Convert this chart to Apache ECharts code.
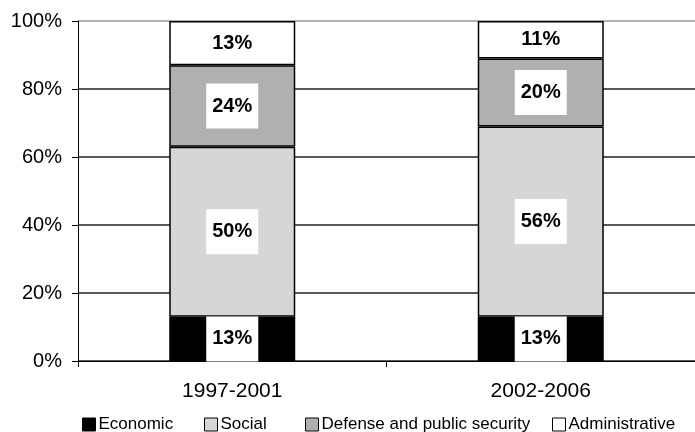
<!DOCTYPE html>
<html>
<head>
<meta charset="utf-8">
<script src="https://cdn.jsdelivr.net/npm/echarts@6/dist/echarts.min.js"></script>
<style>html,body{margin:0;padding:0;background:#fff}#c{width:695px;height:432px}</style>
</head>
<body>
<div id="c"></div>
<script>
const categories = ['1997-2001', '2002-2006'];
const economic = [13, 13];
const social = [50, 56];
const defense = [24, 20];
const administrative = [13, 11];
const seriesNames = ['Economic', 'Social', 'Defense and public security', 'Administrative'];
const yTicks = [0, 20, 40, 60, 80, 100];

const colors = ['#000000', '#d6d6d6', '#b0b0b0', '#ffffff'];
const values = [economic, social, defense, administrative];
const legendLeft = [82, 204, 305, 552];
const font = 'Arial, "Liberation Sans", sans-serif';

const chart = echarts.init(document.getElementById('c'));
chart.setOption({
  animation: false,
  backgroundColor: '#fff',
  grid: { left: 78, right: -11, top: 21, bottom: 71, containLabel: false },
  legend: seriesNames.map((n, i) => ({
    data: [n], left: legendLeft[i], top: 416, padding: 0, icon: 'rect', itemWidth: 13, itemHeight: 13,
    itemGap: 3, selectedMode: false,
    itemStyle: { borderColor: '#000', borderWidth: 1 },
    textStyle: { fontFamily: font, fontSize: 17, color: '#000', padding: [0, 0, 0, -2] }
  })),
  xAxis: {
    type: 'category', data: categories,
    axisLine: { lineStyle: { color: '#000', width: 1 } },
    axisTick: { show: true, length: 6, lineStyle: { color: '#000' } },
    axisLabel: { fontFamily: font, fontSize: 21, color: '#000', margin: 20 }
  },
  yAxis: {
    type: 'value', min: 0, max: 100, interval: 20,
    axisLine: { show: true, lineStyle: { color: '#000', width: 1 } },
    axisTick: { show: true, length: 6, lineStyle: { color: '#000' } },
    axisLabel: { fontFamily: font, fontSize: 20, color: '#000', margin: 16,
      formatter: v => yTicks.includes(v) ? v + '%' : '' },
    splitLine: { show: true, lineStyle: { color: ['#222', '#222', '#222', '#222', '#222', '#999'], width: 1.5 } }
  },
  series: seriesNames.map((n, i) => ({
    name: n, type: 'bar', stack: 'total', data: values[i], barWidth: 126,
    itemStyle: { color: colors[i], borderColor: '#000', borderWidth: 1.5 },
    label: {
      show: true, position: 'inside', formatter: p => p.value + '%',
      fontFamily: font, fontSize: 20, fontWeight: 'bold', color: '#000',
      backgroundColor: i === 3 ? 'transparent' : '#fff', padding: [13, 6, 12, 6], lineHeight: 20
    }
  }))
});
</script>
</body>
</html>
